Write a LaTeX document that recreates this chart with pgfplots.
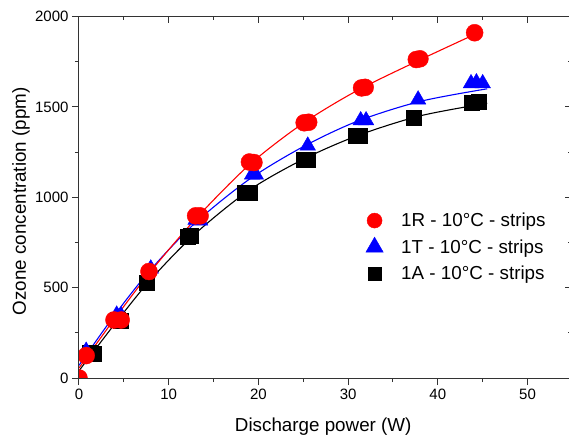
\documentclass[border=0pt]{standalone}
\usepackage{fontspec}
\setmainfont{Liberation Sans}
\usepackage{pgfplots}
\pgfplotsset{compat=1.18}

\definecolor{axgray}{HTML}{333333}

\begin{document}
\begin{tikzpicture}
\pgfplotsset{
  common/.style={
    scale only axis, width=493.4pt, height=361.5pt,
    xmin=0, xmax=55, ymin=0, ymax=2000,
    xtick={0,10,...,50}, ytick={0,500,...,2000},
    minor x tick num=1, minor y tick num=1,
    major tick length=7pt, minor tick length=4pt,
    axis line style={axgray, line width=1pt},
    every tick/.style={axgray, line width=1pt},
  },
}
\begin{axis}[common,
    xtick pos=left, ytick pos=left, tick align=outside,
    /pgf/number format/assume math mode=true,
    /pgf/number format/1000 sep={},
    ticklabel style={font=\fontsize{15}{18}\selectfont},
    xlabel={Discharge power (W)},
    ylabel={Ozone concentration (ppm)},
    every axis x label/.style={at={(rel axis cs:0.495,0)}, yshift=-49pt, anchor=center,
      font=\fontsize{18.8}{22}\selectfont},
    every axis y label/.style={at={(rel axis cs:0,0.5)}, xshift=-58pt, yshift=-4pt, rotate=90,
      anchor=center, font=\fontsize{18.8}{22}\selectfont},
    clip marker paths=true,
    legend cell align=left,
    legend style={at={(rel axis cs:0.575,0.468)}, anchor=north west, draw=none, fill=none,
      font=\fontsize{18.8}{22}\selectfont, row sep=7pt, column sep=16pt},
    legend image code/.code={\draw[#1] plot coordinates {(0pt,0pt)};},
  ]
  % fitted curves
  \addplot[forget plot, black, line width=1.1pt, smooth] coordinates {
    (0,40) (4,300) (8,545) (13,800) (19,1040) (25,1210) (31,1340) (38,1450) (45.5,1520)};
  \addplot[forget plot, blue, line width=1.1pt, smooth] coordinates {
    (0,70) (4,350) (8,600) (13,860) (19,1100) (25,1280) (31,1420) (38,1530) (45.5,1600)};
  \addplot[forget plot, red, line width=1.1pt, smooth] coordinates {
    (0,55) (4,330) (8,590) (13,880) (19,1180) (25,1410) (31,1590) (38,1760) (44.5,1910)};
  % measurements
  \addplot[forget plot, only marks, mark=square*, mark size=7.5pt, black] coordinates {
    (1.2,138) (1.6,135) (4.3,320) (4.7,318) (7.6,528) (12.1,783) (12.5,785)
    (18.5,1025) (19.0,1027) (25.0,1205) (25.5,1208) (30.8,1340) (31.3,1341)
    (37.3,1439) (43.8,1525) (44.6,1528)};
  \addplot[forget plot, only marks, mark=triangle*, mark size=9pt, blue] coordinates {
    (0.8,150) (4.2,350) (4.7,345) (8.0,605) (13.0,875) (13.5,870)
    (19.3,1125) (19.7,1125) (25.5,1285) (31.4,1425) (32.0,1425)
    (37.8,1540) (43.7,1630) (44.3,1635) (45.0,1630)};
  \addplot[forget plot, only marks, mark=*, mark size=8.5pt, red] coordinates {
    (0,0) (0.8,124) (3.9,321) (4.7,321) (7.8,589) (13.0,897) (13.5,897)
    (19.0,1195) (19.5,1192) (25.1,1412) (25.6,1415) (31.5,1605) (31.9,1608)
    (37.6,1762) (38.0,1766) (44.1,1910)};
  % legend entries
  \addlegendimage{only marks, mark=*, mark size=7.5pt, red}
  \addlegendentry{1R - 10°C - strips}
  \addlegendimage{only marks, mark=triangle*, mark size=10pt, blue}
  \addlegendentry{1T - 10°C - strips}
  \addlegendimage{only marks, mark=square*, mark size=6.5pt, black}
  \addlegendentry{1A - 10°C - strips}
\end{axis}
\begin{axis}[common,
    xtick pos=right, ytick pos=right, tick align=inside,
    xticklabels={}, yticklabels={},
  ]
\end{axis}
\pgfresetboundingbox
\path[use as bounding box] (-79pt,-63pt) rectangle (490pt,378pt);
\end{tikzpicture}
\end{document}
